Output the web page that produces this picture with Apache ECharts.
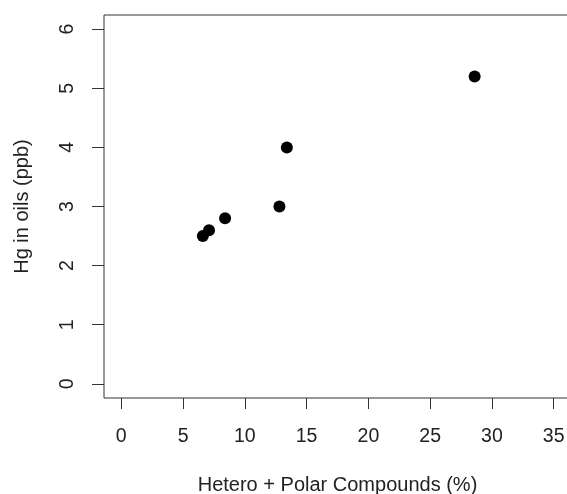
<!DOCTYPE html>
<html>
<head>
<meta charset="utf-8">
<script src="https://cdn.jsdelivr.net/npm/echarts@6/dist/echarts.min.js"></script>
<style>
  html, body { margin: 0; padding: 0; background: #fff; }
  #chart { width: 567px; height: 494px; }
</style>
</head>
<body>
<div id="chart"></div>
<script>
// polar compounds (%) vs mercury (ppb)
const polarPct = [6.6, 7.1, 8.4, 12.8, 13.4, 28.6]
const hgPpb = [2.5, 2.6, 2.8, 3.0, 4.0, 5.2]
const xTicks = [0, 5, 10, 15, 20, 25, 30, 35]
const yTicks = [0, 1, 2, 3, 4, 5, 6]

const font = 'Liberation Sans, Arial, sans-serif'
const ink = '#222'

const chart = echarts.init(document.getElementById('chart'))
chart.setOption({
  animation: false,
  grid: {
    left: 104,
    top: 15,
    width: 467,
    height: 383,
    outerBoundsMode: 'none',
    containLabel: false,
    show: true,
    borderColor: '#333',
    borderWidth: 1
  },
  xAxis: {
    type: 'value',
    min: -1.4,
    max: 36.4,
    name: 'Hetero + Polar Compounds (%)',
    nameLocation: 'middle',
    nameGap: 77,
    nameTextStyle: { fontFamily: font, fontSize: 20, color: ink },
    axisLine: { show: false, onZero: false },
    splitLine: { show: false },
    axisTick: { show: true, inside: false, length: 11, customValues: xTicks, lineStyle: { color: '#333' } },
    axisLabel: { customValues: xTicks, margin: 29, fontFamily: font, fontSize: 19.5, color: ink }
  },
  yAxis: {
    type: 'value',
    min: -0.24,
    max: 6.24,
    name: 'Hg in oils (ppb)',
    nameLocation: 'middle',
    nameGap: 72,
    nameRotate: 90,
    nameTextStyle: { fontFamily: font, fontSize: 20, color: ink },
    axisLine: { show: false, onZero: false },
    splitLine: { show: false },
    axisTick: { show: true, inside: false, length: 12, customValues: yTicks, lineStyle: { color: '#333' } },
    axisLabel: { customValues: yTicks, rotate: 90, margin: 26, fontFamily: font, fontSize: 19.5, color: ink }
  },
  series: [{
    type: 'scatter',
    symbol: 'circle',
    symbolSize: 12,
    itemStyle: { color: '#000', opacity: 1 },
    data: polarPct.map((x, i) => [x, hgPpb[i]])
  }]
})
</script>
</body>
</html>
